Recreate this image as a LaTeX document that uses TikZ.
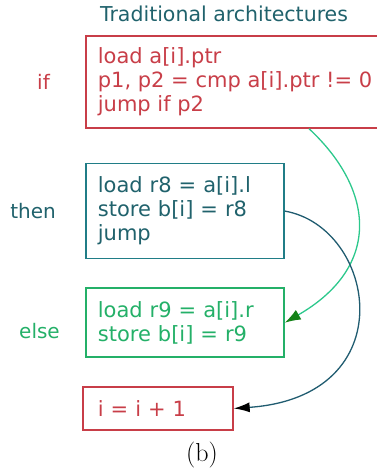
\documentclass[tikz,border=0pt]{standalone}
\usepackage{fontspec}
\usepackage{xcolor}
\usepackage{tikz}
\usetikzlibrary{shapes,arrows.meta,positioning,calc}

\newfontfamily\diagfont{DejaVu Sans}

\definecolor{ifred}{RGB}{200,62,72}
\definecolor{thenteal}{RGB}{32,98,108}
\definecolor{thenedge}{RGB}{32,125,135}
\definecolor{elsegreen}{RGB}{36,176,104}
\definecolor{flowgreen}{RGB}{44,200,140}
\definecolor{headgreen}{RGB}{20,130,24}
\definecolor{flowdark}{RGB}{32,92,112}

\begin{document}
\begin{tikzpicture}[
        x=1pt, y=1pt,
        node distance=30pt,
        codebox/.style={rectangle, draw, line width=1.7pt, anchor=north west, align=left, inner xsep=12pt, inner ysep=4pt, font=\diagfont\fontsize{21}{24}\selectfont},
        ifcode/.style={codebox, draw=ifred, text=ifred, minimum height=92pt},
        thencode/.style={codebox, draw=thenedge, text=thenteal, text width=174pt, minimum height=95pt},
        elsecode/.style={codebox, draw=elsegreen, text=elsegreen, text width=174pt, minimum height=69pt},
        inccode/.style={codebox, draw=ifred, text=ifred, inner xsep=15pt, text width=120pt, minimum height=43pt},
        branch/.style={inner sep=0pt, font=\diagfont\fontsize{20}{24}\selectfont},
        greenflow/.style={draw=flowgreen, line width=1.3pt, -{Latex[length=16pt, width=11pt, color=headgreen]}},
        darkflow/.style={draw=flowdark, line width=1.3pt, -{Latex[length=16pt, width=10pt, color=black]}}
    ]
    \useasboundingbox (0,0) rectangle (377,472);

    % Title
    \node[anchor=base, text=thenteal, font=\diagfont\fontsize{20.5}{24}\selectfont] (title) at (224,450) {Traditional architectures};

    % Code blocks
    \node[ifcode] (ifbox) at (85,437) {load a[i].ptr\\p1, p2 = cmp a[i].ptr != 0\\jump if p2};
    \node[thencode, below=34pt of ifbox.south west, anchor=north west] (thenbox) {load r8 = a[i].l\\store b[i] = r8\\jump};
    \node[elsecode, below=28pt of thenbox.south west, anchor=north west] (elsebox) {load r9 = a[i].r\\store b[i] = r9};
    \node[inccode, below=28pt of elsebox.south west, anchor=north west, xshift=-3pt] (incbox) {i = i + 1};

    % Branch labels
    \node[branch, text=ifred, left=35pt of ifbox] (iflabel) {if};
    \node[branch, text=thenteal, left=29pt of thenbox] (thenlabel) {then};
    \node[branch, text=elsegreen, left=25pt of elsebox, yshift=-8pt] (elselabel) {else};

    % Control flow
    \draw[greenflow] ([xshift=224pt]ifbox.south west) to[out=-43, in=30, out distance=90pt, in distance=112pt] (elsebox.east);
    \draw[darkflow] (thenbox.east) to[out=-10, in=4, out distance=93pt, in distance=172pt] (incbox.east);

    % Caption
    \node[anchor=base, font=\fontsize{26}{30}\selectfont] (caption) at (202,10) {(b)};

\end{tikzpicture}
\end{document}
